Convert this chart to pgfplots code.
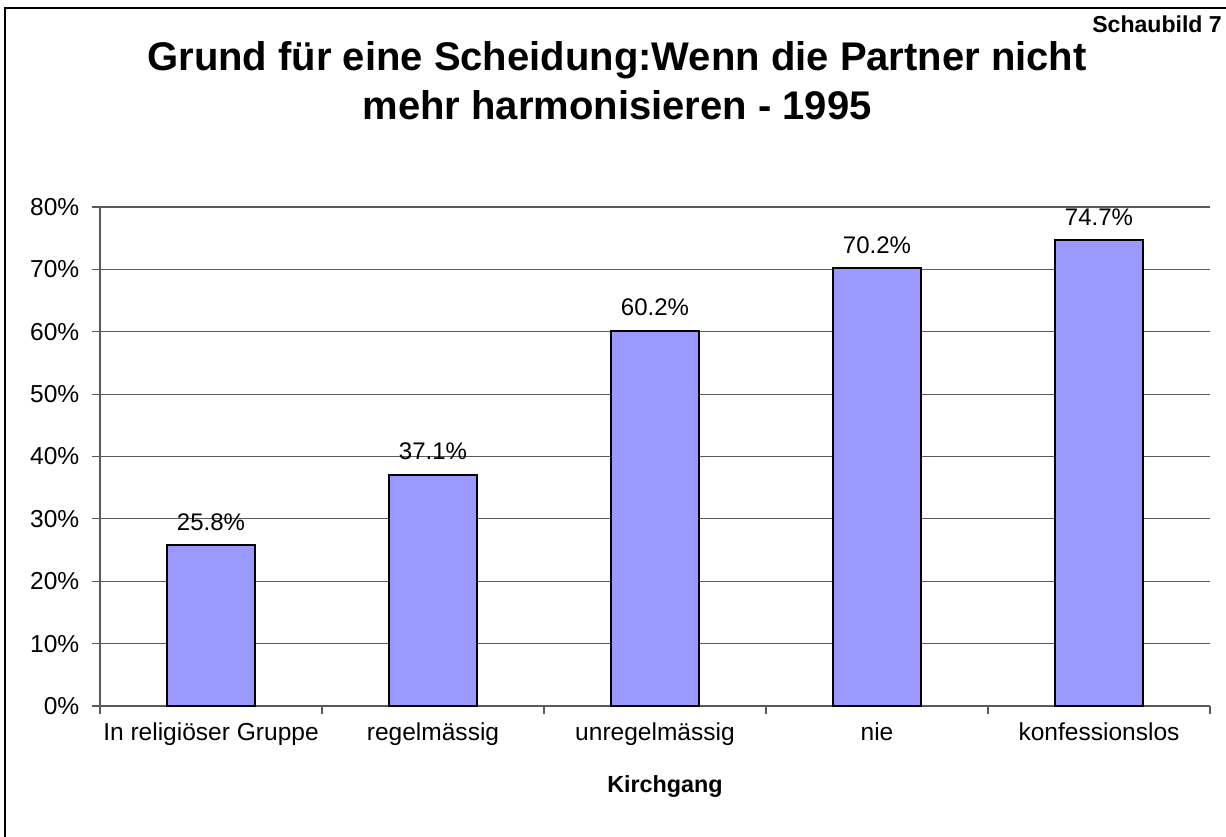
\documentclass[border=0pt]{standalone}
\usepackage{fontspec}
\setmainfont{Liberation Sans}
\usepackage{pgfplots}
\pgfplotsset{compat=1.18}
\definecolor{barblue}{RGB}{153,153,255}
\definecolor{gridgray}{RGB}{90,90,90}
\begin{document}
\begin{tikzpicture}
\useasboundingbox (0,0) rectangle (919.5pt,627pt);
\draw[line width=1.3pt] (3.75pt,-2pt) -- (3.75pt,621pt) -- (922pt,621pt);
\node[anchor=base, font=\fontsize{30}{36}\selectfont\bfseries] at (462.75pt,573.75pt) {Grund für eine Scheidung:Wenn die Partner nicht};
\node[anchor=base, font=\fontsize{30}{36}\selectfont\bfseries] at (462.75pt,537pt) {mehr harmonisieren - 1995};
\node[anchor=base east, font=\fontsize{17.3}{20}\selectfont\bfseries, inner sep=0pt] at (916.5pt,602.25pt) {Schaubild 7};
\node[anchor=base, font=\fontsize{17.5}{20}\selectfont\bfseries] at (498.75pt,33pt) {Kirchgang};
\begin{axis}[
  at={(75pt,97.5pt)}, anchor=south west,
  scale only axis, width=832.5pt, height=374.25pt,
  ybar, bar width=66pt,
  xmin=-0.5, xmax=4.5, ymin=0, ymax=80,
  axis x line*=bottom, axis y line*=left,
  axis line style={gridgray, line width=0.9pt, -},
  ytick={0,10,...,80},
  yticklabel={\pgfmathprintnumber[assume math mode=true]{\tick}\%},
  xtick={0,1,2,3,4},
  xticklabels={In religiöser Gruppe,regelmässig,unregelmässig,nie,konfessionslos},
  major x tick style={draw=none},
  minor xtick={-0.5,0.5,1.5,2.5,3.5,4.5},
  minor x tick style={gridgray, line width=0.9pt},
  minor tick length=6pt,
  major tick length=6pt,
  tick align=outside,
  y tick style={gridgray, line width=0.9pt},
  ymajorgrids,
  grid style={gridgray, line width=0.9pt},
  tick label style={font=\fontsize{18.4}{21}\selectfont},
  yticklabel style={xshift=-6pt},
  xticklabel style={yshift=-3pt},
  nodes near coords={\pgfmathprintnumber[fixed,precision=1,fixed zerofill,assume math mode=true]{\pgfplotspointmeta}\%},
  every node near coord/.append style={font=\fontsize{18}{20}\selectfont, anchor=base, yshift=11pt, black},
  clip=false,
]
\addplot[fill=barblue, draw=black, line width=1.5pt] coordinates {(0,25.8) (1,37.1) (2,60.2) (3,70.2) (4,74.7)};
\end{axis}
\end{tikzpicture}
\end{document}
